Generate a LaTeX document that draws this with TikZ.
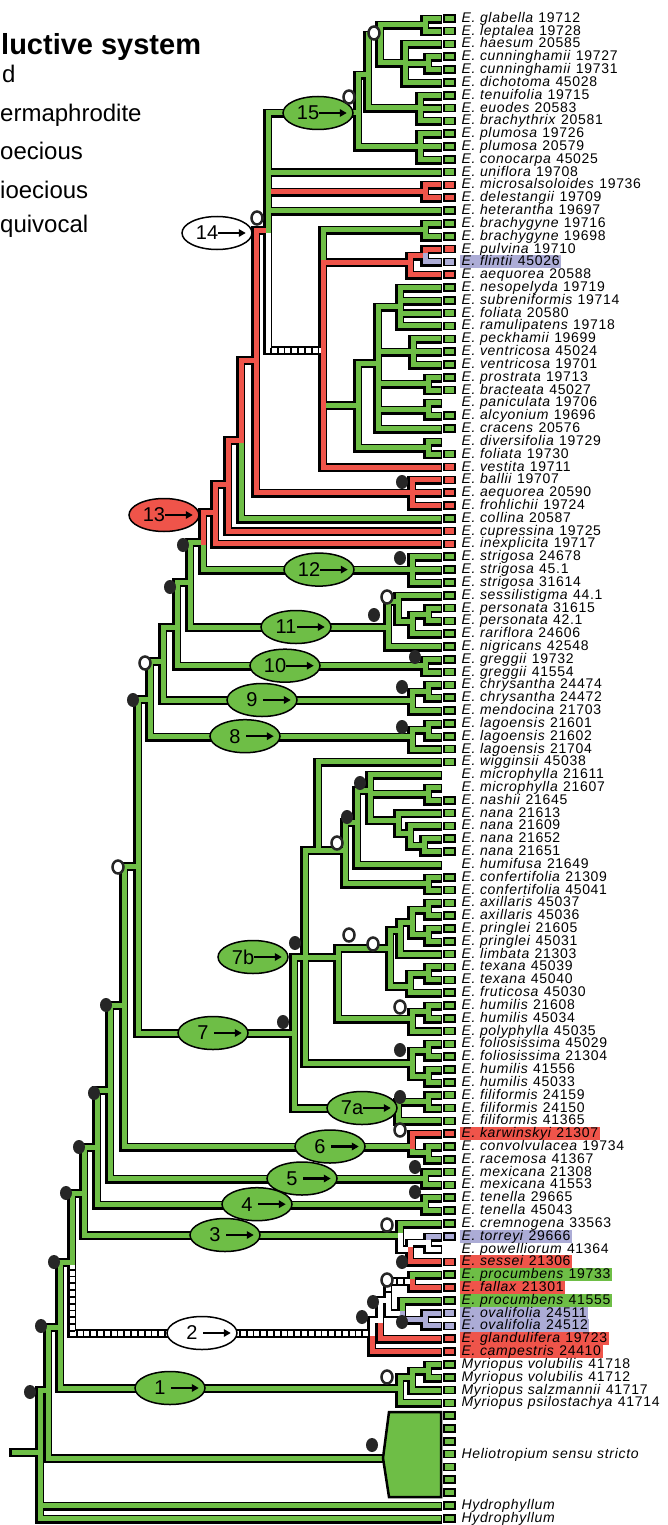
\documentclass[tikz,border=0pt]{standalone}
\usepackage{fontspec}
\setmainfont{Liberation Sans}
\newfontfamily\leaffont[LetterSpace=5]{Liberation Sans}
\usetikzlibrary{positioning,shapes.geometric,arrows.meta}
\definecolor{grn}{RGB}{110,190,70}
\definecolor{rd}{RGB}{239,84,74}
\definecolor{lav}{RGB}{172,172,214}
\newcommand\E[1]{\textit{E. #1}}

\begin{document}
\begin{tikzpicture}[x=1pt,y=-1pt,
  brback/.style={line width=9pt,black,line cap=rect,line join=miter,
    transform canvas={shift={(-0.8pt,-0.8pt)}}},
  brfront/.style={line width=5pt,line cap=rect,line join=miter},
  wht/.style={draw=white},
  eqv/.style={draw=white,postaction={draw=black,line cap=butt,dash pattern=on 1.8pt off 5pt}},
  leafbox/.style={draw,line width=1.6pt,minimum width=11pt,minimum height=7pt,inner sep=0pt},
  gbox/.style={fill=grn}, rbox/.style={fill=rd}, lbox/.style={fill=lav},
  nbox/.style={draw=none},
  leaf/.style={inner xsep=1.5pt,inner ysep=0pt,text height=10.5pt,text depth=2.5pt,
    font=\leaffont\fontsize{14}{14}\selectfont},
  hln/.style={}, hlr/.style={fill=rd}, hll/.style={fill=lav}, hlg/.style={fill=grn},
  clade/.style={ellipse,draw,line width=1.5pt,minimum width=70pt,minimum height=33pt,
    inner sep=0pt,font=\fontsize{20}{20}\selectfont},
  tagarrow/.style={line width=2.2pt,-{Triangle[length=7pt,width=7.5pt]}},
  dotm/.style={ellipse,fill=black!85,minimum width=12pt,minimum height=14pt,inner sep=0pt},
  ringm/.style={ellipse,draw=black!85,line width=2.5pt,fill=white,minimum width=11pt,
    minimum height=13pt,inner sep=0pt},
  legend/.style={anchor=base west,inner sep=0pt,font=\fontsize{24}{24}\selectfont}]

\useasboundingbox (0,0) rectangle (668,1525);
\clip (0,0) rectangle (668,1525);

% legend (cut at the left edge)
\node[legend,font=\bfseries\fontsize{29}{29}\selectfont] (lg0) at (1,55) {luctive system};
\node[legend] (lg1) at (2,83) {d};
\node[legend] (lg2) at (0,122) {ermaphrodite};
\node[legend] (lg3) at (0,160) {oecious};
\node[legend] (lg4) at (0,198) {ioecious};
\node[legend] (lg5) at (0,233) {quivocal};

% leaves
\foreach \k/\txt/\bx/\hl in {
  1/\E{glabella} 19712/gbox/hln, 2/\E{leptalea} 19728/gbox/hln,
  3/\E{haesum} 20585/gbox/hln, 4/\E{cunninghamii} 19727/gbox/hln,
  5/\E{cunninghamii} 19731/gbox/hln, 6/\E{dichotoma} 45028/gbox/hln,
  7/\E{tenuifolia} 19715/gbox/hln, 8/\E{euodes} 20583/gbox/hln,
  9/\E{brachythrix} 20581/gbox/hln, 10/\E{plumosa} 19726/gbox/hln,
  11/\E{plumosa} 20579/gbox/hln, 12/\E{conocarpa} 45025/gbox/hln,
  13/\E{uniflora} 19708/gbox/hln, 14/\E{microsalsoloides} 19736/rbox/hln,
  15/\E{delestangii} 19709/rbox/hln, 16/\E{heterantha} 19697/gbox/hln,
  17/\E{brachygyne} 19716/gbox/hln, 18/\E{brachygyne} 19698/gbox/hln,
  19/\E{pulvina} 19710/rbox/hln, 20/\E{flintii} 45026/lbox/hll,
  21/\E{aequorea} 20588/rbox/hln, 22/\E{nesopelyda} 19719/gbox/hln,
  23/\E{subreniformis} 19714/gbox/hln, 24/\E{foliata} 20580/gbox/hln,
  25/\E{ramulipatens} 19718/gbox/hln, 26/\E{peckhamii} 19699/gbox/hln,
  27/\E{ventricosa} 45024/gbox/hln, 28/\E{ventricosa} 19701/gbox/hln,
  29/\E{prostrata} 19713/gbox/hln, 30/\E{bracteata} 45027/gbox/hln,
  31/\E{paniculata} 19706/nbox/hln, 32/\E{alcyonium} 19696/gbox/hln,
  33/\E{cracens} 20576/gbox/hln, 34/\E{diversifolia} 19729/nbox/hln,
  35/\E{foliata} 19730/gbox/hln, 36/\E{vestita} 19711/rbox/hln,
  37/\E{ballii} 19707/rbox/hln, 38/\E{aequorea} 20590/rbox/hln,
  39/\E{frohlichii} 19724/rbox/hln, 40/\E{collina} 20587/gbox/hln,
  41/\E{cupressina} 19725/rbox/hln, 42/\E{inexplicita} 19717/rbox/hln,
  43/\E{strigosa} 24678/gbox/hln, 44/\E{strigosa} 45.1/gbox/hln,
  45/\E{strigosa} 31614/gbox/hln, 46/\E{sessilistigma} 44.1/gbox/hln,
  47/\E{personata} 31615/gbox/hln, 48/\E{personata} 42.1/gbox/hln,
  49/\E{rariflora} 24606/gbox/hln, 50/\E{nigricans} 42548/gbox/hln,
  51/\E{greggii} 19732/gbox/hln, 52/\E{greggii} 41554/gbox/hln,
  53/\E{chrysantha} 24474/gbox/hln, 54/\E{chrysantha} 24472/gbox/hln,
  55/\E{mendocina} 21703/gbox/hln, 56/\E{lagoensis} 21601/gbox/hln,
  57/\E{lagoensis} 21602/gbox/hln, 58/\E{lagoensis} 21704/gbox/hln,
  59/\E{wigginsii} 45038/gbox/hln, 60/\E{microphylla} 21611/nbox/hln,
  61/\E{microphylla} 21607/nbox/hln, 62/\E{nashii} 21645/gbox/hln,
  63/\E{nana} 21613/gbox/hln, 64/\E{nana} 21609/gbox/hln,
  65/\E{nana} 21652/gbox/hln, 66/\E{nana} 21651/gbox/hln,
  67/\E{humifusa} 21649/nbox/hln, 68/\E{confertifolia} 21309/gbox/hln,
  69/\E{confertifolia} 45041/gbox/hln, 70/\E{axillaris} 45037/gbox/hln,
  71/\E{axillaris} 45036/gbox/hln, 72/\E{pringlei} 21605/gbox/hln,
  73/\E{pringlei} 45031/gbox/hln, 74/\E{limbata} 21303/gbox/hln,
  75/\E{texana} 45039/gbox/hln, 76/\E{texana} 45040/gbox/hln,
  77/\E{fruticosa} 45030/gbox/hln, 78/\E{humilis} 21608/gbox/hln,
  79/\E{humilis} 45034/gbox/hln, 80/\E{polyphylla} 45035/gbox/hln,
  81/\E{foliosissima} 45029/gbox/hln, 82/\E{foliosissima} 21304/gbox/hln,
  83/\E{humilis} 41556/gbox/hln, 84/\E{humilis} 45033/gbox/hln,
  85/\E{filiformis} 24159/gbox/hln, 86/\E{filiformis} 24150/gbox/hln,
  87/\E{filiformis} 41365/gbox/hln, 88/\E{karwinskyi} 21307/rbox/hlr,
  89/\E{convolvulacea} 19734/gbox/hln, 90/\E{racemosa} 41367/gbox/hln,
  91/\E{mexicana} 21308/gbox/hln, 92/\E{mexicana} 41553/gbox/hln,
  93/\E{tenella} 29665/gbox/hln, 94/\E{tenella} 45043/gbox/hln,
  95/\E{cremnogena} 33563/gbox/hln, 96/\E{torreyi} 29666/lbox/hll,
  97/\E{powelliorum} 41364/nbox/hln, 98/\E{sessei} 21306/rbox/hlr,
  99/\E{procumbens} 19733/gbox/hlg, 100/\E{fallax} 21301/rbox/hlr,
  101/\E{procumbens} 41555/gbox/hlg, 102/\E{ovalifolia} 24511/lbox/hll,
  103/\E{ovalifolia} 24512/lbox/hll, 104/\E{glandulifera} 19723/rbox/hlr,
  105/\E{campestris} 24410/rbox/hlr,
  106/\textit{Myriopus volubilis} 41718/gbox/hln,
  107/\textit{Myriopus volubilis} 41712/gbox/hln,
  108/\textit{Myriopus salzmannii} 41717/gbox/hln,
  109/\textit{Myriopus psilostachya} 41714/gbox/hln,
  110/{}/gbox/hln, 111/{}/gbox/hln, 112/{}/gbox/hln,
  113/\textit{Heliotropium sensu stricto}/gbox/hln,
  114/{}/gbox/hln, 115/{}/gbox/hln, 116/{}/gbox/hln,
  117/\textit{Hydrophyllum}/gbox/hln, 118/\textit{Hydrophyllum}/gbox/hln}{
  \coordinate (t\k) at (438,{18.3+12.82*(\k-1)});
  \node[leafbox,\bx] (b\k) at (449.5,{18.3+12.82*(\k-1)}) {};
  \node[leaf,\hl,right=4pt of b\k] (n\k) {\txt};
}

% internal nodes
\coordinate (rt) at (14,1452);   \coordinate (B0) at (40,1452);
\coordinate (B1) at (48,1390);   \coordinate (hel) at (383,1458);
\coordinate (B2) at (60,1327);   \coordinate (C1) at (400,1388);
\coordinate (My) at (412,1377);  \coordinate (MV) at (428,1370.8);
\coordinate (B3) at (72,1262);   \coordinate (C2) at (372,1333);
\coordinate (A2) at (380,1320);  \coordinate (B2n) at (388,1300);
\coordinate (PF2) at (412,1281.1); \coordinate (PO) at (402,1313);
\coordinate (OV) at (425,1319.5);
\coordinate (B4) at (84,1193);   \coordinate (C3) at (400,1235);
\coordinate (T3) at (410,1249);  \coordinate (TP) at (428,1242.6);
\coordinate (B5) at (97,1147);   \coordinate (TN) at (425,1204.2);
\coordinate (B6) at (110,1090);  \coordinate (MX) at (425,1178.5);
\coordinate (B7) at (124,1005);  \coordinate (C6) at (412,1146.5);
\coordinate (CV) at (428,1152.9);
\coordinate (B8) at (138,866);   \coordinate (N7) at (294,1033);
\coordinate (N7a) at (398,1108); \coordinate (FP) at (428,1101.6);
\coordinate (N7b) at (305,957);
\coordinate (W) at (318,850);    \coordinate (Cf) at (345,850);
\coordinate (CF2) at (428,883.7);\coordinate (Mi) at (357,822);
\coordinate (M1) at (370,790);   \coordinate (MN) at (428,793.9);
\coordinate (N1) at (398,820);   \coordinate (N2) at (410,833);
\coordinate (N3) at (424,845.2);
\coordinate (X) at (338,957);    \coordinate (AX) at (390,948);
\coordinate (AXu) at (400,930);  \coordinate (AXp) at (412,922);
\coordinate (AXa) at (428,909.3);\coordinate (AXb) at (428,934.9);
\coordinate (AXl) at (410,986);  \coordinate (TX) at (428,973.4);
\coordinate (HU) at (412,1018.3);\coordinate (HUp) at (428,1011.9);
\coordinate (FO) at (412,1063);  \coordinate (FOa) at (428,1050.3);
\coordinate (FOb) at (428,1076);
\coordinate (B9) at (150,699);   \coordinate (LA) at (412,736.2);
\coordinate (LAp) at (428,729.8);
\coordinate (B10) at (163,661);  \coordinate (CH) at (412,700);
\coordinate (CHp) at (428,691.4);
\coordinate (B11) at (177,627);  \coordinate (GR) at (425,665.7);
\coordinate (B12) at (190,582);  \coordinate (N11) at (388,627);
\coordinate (N11a) at (398,601); \coordinate (N11b) at (412,621);
\coordinate (PE) at (428,614.4);
\coordinate (B13) at (203,542);  \coordinate (S12) at (412,569.6);
\coordinate (B14) at (215,512);  \coordinate (B15) at (228,484);
\coordinate (B16) at (241,440);  \coordinate (B17) at (256,360);
\coordinate (Bal) at (412,492.6);\coordinate (B18) at (268,230);
\coordinate (MD) at (425,191.4);
\coordinate (C15) at (358,113);  \coordinate (C15a) at (368,75);
\coordinate (C15b) at (380,35);  \coordinate (GL) at (425,24.7);
\coordinate (HA) at (405,63);    \coordinate (CU) at (428,63.2);
\coordinate (TE) at (420,108);   \coordinate (PL) at (420,146.5);
\coordinate (B19) at (323,350);  \coordinate (BR) at (425,229.8);
\coordinate (PU) at (410,262);   \coordinate (PFl) at (425,255.5);
\coordinate (GC) at (358,405);   \coordinate (GA) at (378,363);
\coordinate (NS) at (400,306.8); \coordinate (PK) at (413,351.6);
\coordinate (PB) at (428,383.7); \coordinate (PA) at (428,409.3);
\coordinate (DV) at (428,447.8);

\def\edges{rt/B0/grn, B0/t117/grn, B0/t118/grn, B0/B1/grn, B1/hel/grn, B1/B2/grn,
  B2/C1/grn, B2/B3/grn, B3/C2/eqv, B3/B4/grn, B4/C3/grn, B4/B5/grn, B5/TN/grn,
  B5/B6/grn, B6/MX/grn, B6/B7/grn, B7/C6/grn, B7/B8/grn, B8/N7/grn, B8/B9/grn,
  B9/LA/grn, B9/B10/grn, B10/CH/grn, B10/B11/grn, B11/GR/grn, B11/B12/grn,
  B12/N11/grn, B12/B13/grn, B13/S12/grn, B13/B14/rd, B14/t42/rd, B14/B15/rd,
  B15/t41/rd, B15/B16/rd, B16/t40/grn, B16/B17/rd, B17/Bal/rd, B17/B18/rd,
  B18/MD/rd, B18/B19/wht, B18/C15/grn, B18/t13/grn, B18/t16/grn,
  C15/C15a/grn, C15/PL/grn, C15a/C15b/grn, C15a/TE/grn, C15b/GL/grn, C15b/HA/grn,
  GL/t1/grn, GL/t2/grn, HA/t3/grn, HA/CU/grn, HA/t6/grn, CU/t4/grn, CU/t5/grn,
  TE/t7/grn, TE/t8/grn, TE/t9/grn, PL/t10/grn, PL/t11/grn, PL/t12/grn,
  MD/t14/rd, MD/t15/rd,
  B19/BR/grn, B19/GC/grn, B19/PU/rd, B19/t36/rd, BR/t17/grn, BR/t18/grn,
  PU/PFl/rd, PU/t21/rd, PFl/t19/rd, PFl/t20/lav,
  GC/GA/grn, GC/DV/grn, GA/NS/grn, GA/PK/grn, GA/PB/grn, GA/PA/grn, GA/t33/grn,
  NS/t22/grn, NS/t23/grn, NS/t24/grn, NS/t25/grn, PK/t26/grn, PK/t27/grn, PK/t28/grn,
  PB/t29/grn, PB/t30/grn, PA/t31/grn, PA/t32/grn, DV/t34/grn, DV/t35/grn,
  Bal/t37/rd, Bal/t38/rd, Bal/t39/rd,
  S12/t43/grn, S12/t44/grn, S12/t45/grn,
  N11/N11a/grn, N11/t50/grn, N11a/t46/grn, N11a/N11b/grn, N11b/PE/grn, N11b/t49/grn,
  PE/t47/grn, PE/t48/grn,
  GR/t51/grn, GR/t52/grn, CH/CHp/grn, CH/t55/grn, CHp/t53/grn, CHp/t54/grn,
  LA/LAp/grn, LA/t58/grn, LAp/t56/grn, LAp/t57/grn,
  N7/N7b/grn, N7/N7a/grn, N7a/FP/grn, N7a/t87/grn, FP/t85/grn, FP/t86/grn,
  N7b/W/grn, N7b/X/grn, N7b/FO/grn, W/t59/grn, W/Cf/grn, Cf/Mi/grn, Cf/CF2/grn,
  CF2/t68/grn, CF2/t69/grn, Mi/M1/grn, Mi/t67/grn, M1/t60/grn, M1/MN/grn, M1/N1/grn,
  MN/t61/grn, MN/t62/grn, N1/t63/grn, N1/N2/grn, N2/t64/grn, N2/N3/grn,
  N3/t65/grn, N3/t66/grn,
  X/AX/grn, X/HU/grn, AX/AXu/grn, AX/AXl/grn, AXu/AXp/grn, AXu/t74/grn,
  AXp/AXa/grn, AXp/AXb/grn, AXa/t70/grn, AXa/t71/grn, AXb/t72/grn, AXb/t73/grn,
  AXl/TX/grn, AXl/t77/grn, TX/t75/grn, TX/t76/grn,
  HU/HUp/grn, HU/t80/grn, HUp/t78/grn, HUp/t79/grn,
  FO/FOa/grn, FO/FOb/grn, FOa/t81/grn, FOa/t82/grn, FOb/t83/grn, FOb/t84/grn,
  C6/CV/grn, C6/t88/rd, CV/t89/grn, CV/t90/grn,
  MX/t91/grn, MX/t92/grn, TN/t93/grn, TN/t94/grn,
  C3/t95/grn, C3/T3/wht, T3/TP/wht, T3/t98/rd, TP/t96/lav, TP/t97/wht,
  C2/t105/rd, C2/A2/wht, A2/t104/rd, A2/B2n/wht, B2n/PF2/eqv, B2n/PO/wht,
  PF2/t99/grn, PF2/t100/rd, PO/t101/grn, PO/OV/lav, OV/t102/lav, OV/t103/lav,
  C1/My/grn, C1/t109/grn, My/MV/grn, My/t108/grn, MV/t106/grn, MV/t107/grn}

% branches: black shadow first, colour on top
\foreach \p/\c/\s in \edges {\draw[brback] (\p) |- (\c);}
\foreach \p/\c/\s in \edges {\draw[brfront,\s] (\p) |- (\c);}
% dashed part of the stem below node 14
\draw[line width=5pt,black,dash pattern=on 1.8pt off 5pt] ([xshift=2pt]B18 |- B19) -- ([xshift=-2pt]B19);

% Heliotropium block
\draw[line width=2.5pt,fill=grn,line join=miter] (hel) -- (389,1412) -- (441,1412)
  -- (441,1497) -- (389,1497) -- cycle;

% clade tags
\foreach \nm/\pos/\fc in {15/{(318,113)}/grn, 14/{(217,233)}/white, 13/{(164,515)}/rd,
  12/{(319,569.6)}/grn, 11/{(296,627)}/grn, 10/{(285,665.7)}/grn, 9/{(262,700)}/grn,
  8/{(245,736.2)}/grn, 7b/{(253,957)}/grn, 7/{(213,1033)}/grn, 7a/{(362,1108)}/grn,
  6/{(330,1146.5)}/grn, 5/{(302,1178.5)}/grn, 4/{(257,1204.2)}/grn,
  3/{(225,1235)}/grn, 2/{(202,1333)}/white, 1/{(170,1388)}/grn}{
  \node[clade,fill=\fc] (k\nm) at \pos {\nm\kern20pt\relax};
  \draw[tagarrow] ([xshift=1pt]k\nm.center) -- ([xshift=-7pt]k\nm.east);
}

% node markers
\foreach \p [count=\i] in {(30,1392),(41,1326),(54,1262),(66,1193),(79,1147),(94,1093),
  (106,1005),(133,700),(170,587),(183,545),(400,558),(374,615),(415,657),(402,687),
  (402,727),(360,783),(347,817),(295,943),(283,1022),(400,1050),(400,1097),(415,1167),
  (415,1192),(402,1262),(362,1317),(373,1302),(402,1322),(372,1445),(402,482)}
  {\node[dotm] (d\i) at \p {};}
\foreach \p [count=\i] in {(374,33),(349,97),(257,218),(145,663),(118,867),(337,843),
  (349,935),(373,944),(387,597),(400,1007),(400,1130),(387,1225),(387,1280),(387,1377)}
  {\node[ringm] (o\i) at \p {};}

\end{tikzpicture}
\end{document}
